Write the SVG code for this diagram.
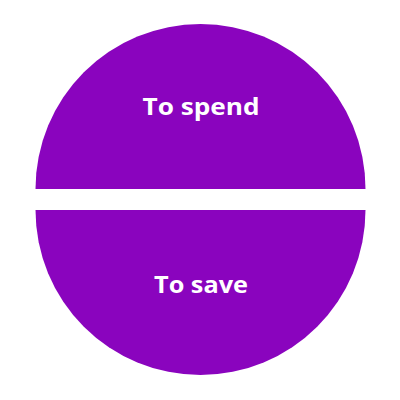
<svg xmlns="http://www.w3.org/2000/svg" width="400" height="400" viewBox="0 0 400 400">
<style>
.half{fill:#8A04BE}
.lbl{fill:#FFFFFF;font-family:"Open Sans","DejaVu Sans",sans-serif;font-weight:700;font-size:24px;text-anchor:middle}
</style>
<rect width="400" height="400" fill="#FFFFFF"/>
<g id="spend">
<path class="half" d="M35.5,189 A165,165 0 0 1 365.5,189 Z"/>
<text class="lbl" x="201" y="114.5" textLength="117" lengthAdjust="spacingAndGlyphs">To spend</text>
</g>
<g id="save">
<path class="half" d="M35.5,210 A165,165 0 0 0 365.5,210 Z"/>
<text class="lbl" x="201" y="292.5" textLength="94" lengthAdjust="spacingAndGlyphs">To save</text>
</g>
<g id="connectors"/>
</svg>
